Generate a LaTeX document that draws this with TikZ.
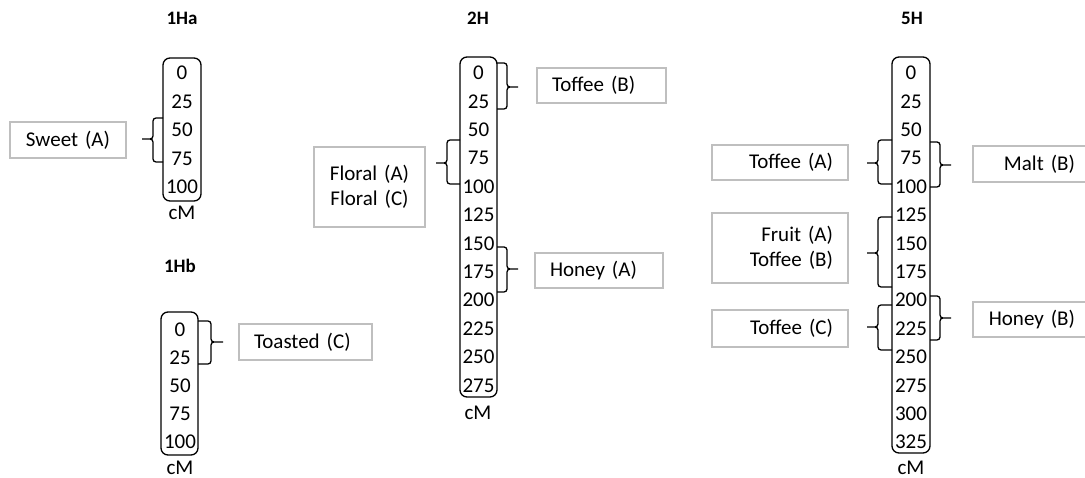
\documentclass[tikz,border=0pt]{standalone}
\usepackage{fontspec}
\setmainfont{Carlito}
\definecolor{boxgray}{RGB}{191,191,191}
\newcommand{\mapfont}{\fontsize{21}{25}\selectfont\fontdimen2\font=0.12em\fontdimen3\font=0pt\fontdimen4\font=0pt\relax}

\tikzset{
  num/.style={inner sep=0pt},
  chrom/.style={draw, line width=1.3pt, rounded corners=7pt},
  bracket/.style={line width=1.3pt, rounded corners=3pt},
  trait/.style={draw=boxgray, line width=1.6pt, inner xsep=15pt, inner ysep=0pt},
  chrname/.style={font=\fontsize{19}{22}\selectfont\bfseries},
}

\begin{document}
\begin{tikzpicture}[x=1pt, y=-1pt, font=\mapfont]
  \useasboundingbox (0,0) rectangle (1085,478);

  % 1Ha
  \node[chrname] (t1ha) at (182,18) {1Ha};
  \foreach \v [count=\i from 0] in {0,25,...,100}
    \node[num] (ha\i) at (182,73+28.5*\i) {\v};
  \draw[chrom] (163,58) rectangle (201,201);
  \node[num] (cm1ha) at (182,213) {cM};

  % 1Hb
  \node[chrname] (t1hb) at (180,266) {1Hb};
  \foreach \v [count=\i from 0] in {0,25,...,100}
    \node[num] (hb\i) at (180,330+28*\i) {\v};
  \draw[chrom] (161,312) rectangle (198,455);
  \node[num] (cm1hb) at (180,468) {cM};

  % 2H
  \node[chrname] (t2h) at (478,18) {2H};
  \foreach \v [count=\i from 0] in {0,25,...,275}
    \node[num] (h2\i) at (478.5,73+28.4*\i) {\v};
  \draw[chrom] (460,57) rectangle (497,397);
  \node[num] (cm2h) at (478,413) {cM};

  % 5H
  \node[chrname] (t5h) at (912,18) {5H};
  \foreach \v [count=\i from 0] in {0,25,...,325}
    \node[num] (h5\i) at (911,73+28.4*\i) {\v};
  \draw[chrom] (892,57) rectangle (930,453);
  \node[num] (cm5h) at (911,468) {cM};

  % traits
  \node[trait, text width=86pt, align=center, minimum height=36pt] (sweetA) at (68,140) {Sweet (A)};
  \node[trait, text width=103pt, align=left, minimum height=36pt] (toastedC) at (305.5,342) {Toasted (C)};
  \node[trait, text width=99pt, align=left, minimum height=35pt] (toffeeB) at (601.5,85.5) {Toffee (B)};
  \node[trait, text width=81pt, align=center, minimum height=80pt] (floral) at (369.5,187) {Floral (A)\\Floral (C)};
  \node[trait, text width=98pt, align=left, minimum height=35pt] (honeyA) at (599,270.5) {Honey (A)};
  \node[trait, text width=106pt, align=right, minimum height=35pt] (toffeeA) at (780,162.5) {Toffee (A)};
  \node[trait, text width=106pt, align=right, minimum height=70pt] (fruit) at (780,248) {Fruit (A)\\Toffee (B)};
  \node[trait, text width=106pt, align=right, minimum height=37pt] (toffeeC) at (780,328.5) {Toffee (C)};
  \node[trait, text width=87pt, align=right, minimum height=36pt] (maltB) at (1031.5,164) {Malt (B)};
  \node[trait, text width=87pt, align=right, minimum height=35pt] (honeyB) at (1031.5,319.5) {Honey (B)};

  % brackets
  \draw[bracket] (163,118) -- ++(-10,0) |- (142,139)
                 (163,162) -- ++(-10,0) |- (142,139);
  \draw[bracket] (198,321) -- ++(13,0) |- (223,342)
                 (198,364) -- ++(13,0) |- (223,342);
  \draw[bracket] (497,63) -- ++(10,0) |- (518,87)
                 (497,109) -- ++(10,0) |- (518,87);
  \draw[bracket] (460,140) -- ++(-13,0) |- (436,163)
                 (460,184) -- ++(-13,0) |- (436,163);
  \draw[bracket] (497,247) -- ++(10,0) |- (518,269)
                 (497,292) -- ++(10,0) |- (518,269);
  \draw[bracket] (892,140) -- ++(-14,0) |- (867,163)
                 (892,184) -- ++(-14,0) |- (867,163);
  \draw[bracket] (930,142) -- ++(10,0) |- (951,165)
                 (930,187) -- ++(10,0) |- (951,165);
  \draw[bracket] (892,217) -- ++(-14,0) |- (867,253)
                 (892,287) -- ++(-14,0) |- (867,253);
  \draw[bracket] (892,305) -- ++(-14,0) |- (867,327)
                 (892,350) -- ++(-14,0) |- (867,327);
  \draw[bracket] (930,296) -- ++(10,0) |- (951,318)
                 (930,340) -- ++(10,0) |- (951,318);
\end{tikzpicture}
\end{document}
